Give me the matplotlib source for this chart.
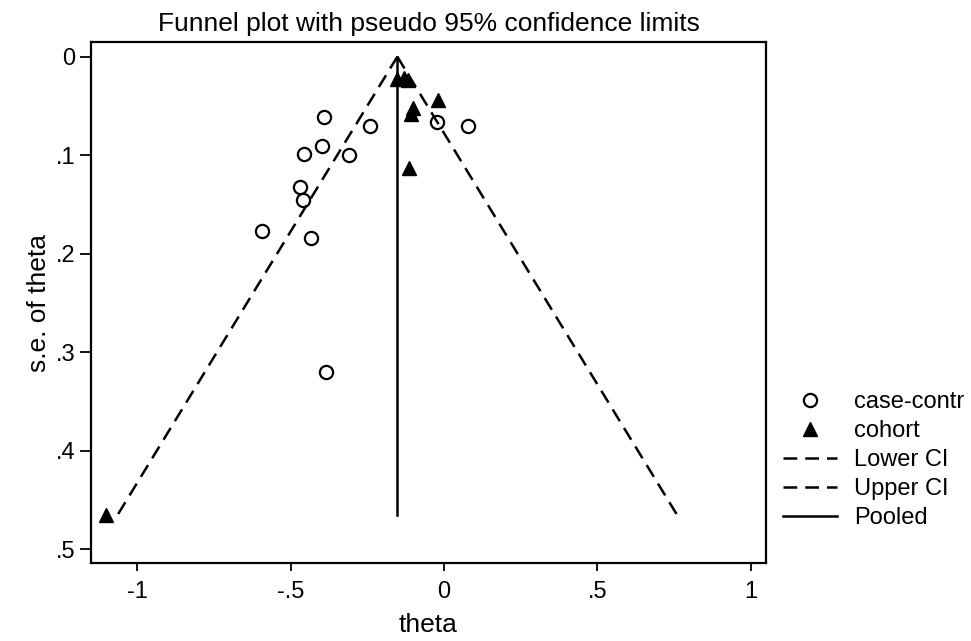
import matplotlib
matplotlib.use('Agg')
import matplotlib.pyplot as plt

plt.rcParams['font.family'] = ['Liberation Sans', 'DejaVu Sans']

# 読み取った値
cc_theta = [-0.391, -0.241, -0.456, -0.396, -0.310, -0.469, -0.458, -0.594, -0.433, -0.384, -0.024, 0.079]
cc_se = [0.061, 0.070, 0.099, 0.091, 0.100, 0.132, 0.146, 0.177, 0.184, 0.320, 0.066, 0.070]

coh_theta = [-0.154, -0.130, -0.116, -0.019, -0.100, -0.108, -0.114, -1.100]
coh_se = [0.023, 0.022, 0.024, 0.044, 0.052, 0.058, 0.113, 0.465]

funnel_se = [0.0, 0.465]
lower_ci = [-0.152, -1.063]
upper_ci = [-0.152, 0.759]
pooled = [-0.152, -0.152]

xticks = [-1, -0.5, 0, 0.5, 1]
xlabels = ['-1', '-.5', '0', '.5', '1']
yticks = [0, 0.1, 0.2, 0.3, 0.4, 0.5]
ylabels = ['0', '.1', '.2', '.3', '.4', '.5']

fig = plt.figure(figsize=(9.71, 6.41), dpi=100)
ax = fig.add_axes([91/971, 1-563/641, (766-91)/971, (563-42.3)/641])

ax.plot(cc_theta, cc_se, 'o', ms=9.5, mfc='white', mec='black', mew=1.6, label='case-contr')
ax.plot(coh_theta, coh_se, '^', ms=10.5, color='black', label='cohort')
ax.plot(lower_ci, funnel_se, color='black', lw=1.8, dashes=(5.5, 3.2), label='Lower CI')
ax.plot(upper_ci, funnel_se, color='black', lw=1.8, dashes=(5.5, 3.2), label='Upper CI')
ax.plot(pooled, funnel_se, color='black', lw=1.8, label='Pooled')

ax.set_xlim(-1.15, 1.049)
ax.set_ylim(0.514, -0.0146)
ax.set_xticks(xticks)
ax.set_xticklabels(xlabels)
ax.set_yticks(yticks)
ax.set_yticklabels(ylabels)
ax.tick_params(axis='x', length=6, width=1.3, labelsize=17, pad=7)
ax.tick_params(axis='y', length=8, width=1.3, labelsize=17, pad=3)
for s in ax.spines.values():
    s.set_linewidth(1.6)

ax.set_xlabel('theta', fontsize=19, labelpad=7)
ax.set_ylabel('s.e. of theta', fontsize=19, labelpad=4)
ax.set_title('Funnel plot with pseudo 95% confidence limits', fontsize=19, pad=8)

fig.legend(loc='center left', bbox_to_anchor=(783/971, 1-460/641), frameon=False,
           fontsize=17, handlelength=2.3, handletextpad=0.7, labelspacing=0.3,
           borderpad=0, borderaxespad=0)

fig.savefig('out.png', dpi=100)
